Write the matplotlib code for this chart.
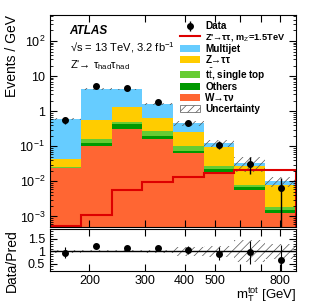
import numpy as np
import matplotlib
matplotlib.use("Agg")
import matplotlib.pyplot as plt
from matplotlib.patches import Patch
from matplotlib.lines import Line2D
from matplotlib.ticker import FixedLocator, FixedFormatter, NullFormatter, LogLocator, MultipleLocator

plt.rcParams["font.family"] = ["Liberation Sans", "DejaVu Sans"]
plt.rcParams["mathtext.fontset"] = "custom"
plt.rcParams["mathtext.rm"] = "Liberation Sans"
plt.rcParams["mathtext.it"] = "Liberation Sans:italic"
plt.rcParams["mathtext.bf"] = "Liberation Sans:bold"
plt.rcParams["hatch.linewidth"] = 0.5

# ---- data ----
bin_edges = [150, 187.6, 234.8, 293.7, 367.4, 459.6, 575.0, 719.3, 900]
w_taunu = [0.024, 0.105, 0.32, 0.16, 0.063, 0.0185, 0.0055, 0.00125]
others = [0.0008, 0.02, 0.10, 0.03, 0.01, 0.0045, 0.0014, 0.00025]
ttbar = [0.0008, 0.04, 0.07, 0.08, 0.027, 0.005, 0.0008, 0.0003]
z_tautau = [0.018, 0.38, 0.8, 0.37, 0.16, 0.068, 0.02, 0.006]
multijet = [0.56, 3.7, 2.9, 1.0, 0.19, 0.028, 0.006, 0.0023]
signal = [5.3e-4, 0.00107, 0.0055, 0.0095, 0.013, 0.017, 0.021, 0.021]
data = [0.57, 5.2, 4.7, 1.85, 0.47, 0.112, 0.032, 0.0064]
data_err = [0.125, 0.33, 0.29, 0.15, 0.07, 0.031, 0.016, 0.0064]
rel_unc = [0.07, 0.05, 0.05, 0.06, 0.18, 0.22, 0.45, 0.3]

x_ticks = [200, 300, 400, 500, 600, 700, 800]
x_ticklabels = ["200", "300", "400", "500", "", "", "800"]
y_ticks = [1e-3, 1e-2, 1e-1, 1, 10, 100]
y_ticklabels = [r"$10^{-3}$", r"$10^{-2}$", r"$10^{-1}$", "1", "10", r"$10^{2}$"]
r_ticks = [0.5, 1, 1.5]
r_ticklabels = ["0.5", "1", "1.5"]

colors = {
    "W": "#ff6633",
    "Others": "#009900",
    "tt": "#66cc33",
    "Z": "#ffcc00",
    "MJ": "#66ccff",
}
hatch_col = "#555555"

edges = np.array(bin_edges)
centers = np.sqrt(edges[:-1] * edges[1:])

fig = plt.figure(figsize=(3.12, 3.06), dpi=100)
ax = fig.add_axes([50/312, 1-227/306, 246/312, 212/306])
rax = fig.add_axes([50/312, 1-271/306, 246/312, 42/306])

stack = [
    (w_taunu, colors["W"]),
    (others, colors["Others"]),
    (ttbar, colors["tt"]),
    (z_tautau, colors["Z"]),
    (multijet, colors["MJ"]),
]
base = np.full(len(centers), 1e-6)
for vals, c in stack:
    top = base + np.array(vals)
    ax.stairs(top, edges, baseline=base, fill=True, color=c, lw=0)
    base = top
total = base

unc = total * np.array(rel_unc)
ax.stairs(total + unc, edges, baseline=total - unc, fill=True, facecolor="none",
          edgecolor=hatch_col, hatch="////", lw=0)

ax.stairs(signal, edges, color="#dd0000", lw=1.5)
h_data = ax.errorbar(centers, data, yerr=data_err, fmt="o", color="black", ms=4, lw=1, capsize=0)

ax.set_xscale("log")
ax.set_yscale("log")
ax.set_xlim(150, 900)
ax.set_ylim(5e-4, 550)
for a in (ax, rax):
    a.xaxis.set_major_locator(FixedLocator(x_ticks))
    a.xaxis.set_minor_locator(FixedLocator([]))
    a.tick_params(which="both", direction="in", top=True, right=True, labelsize=9)
    a.tick_params(which="major", length=5, width=0.8)
    a.tick_params(which="minor", length=2.5, width=0.6)
ax.xaxis.set_major_formatter(NullFormatter())
ax.yaxis.set_major_locator(FixedLocator(y_ticks))
ax.yaxis.set_major_formatter(FixedFormatter(y_ticklabels))
ax.yaxis.set_minor_locator(LogLocator(base=10, subs=np.arange(2, 10)))
ax.yaxis.set_minor_formatter(NullFormatter())
ax.set_ylabel("Events / GeV", fontsize=10, loc="top")

ratio = np.array(data) / total
ratio_err = np.array(data_err) / total
rax.stairs(1 + np.array(rel_unc), edges, baseline=1 - np.array(rel_unc), fill=True,
           facecolor="none", edgecolor=hatch_col, hatch="////", lw=0)
rax.axhline(1, color="black", lw=1)
rax.errorbar(centers, ratio, yerr=ratio_err, fmt="o", color="black", ms=4, lw=0.8, capsize=0)
rax.set_xscale("log")
rax.set_xlim(150, 900)
rax.set_ylim(0.2, 1.9)
rax.xaxis.set_major_locator(FixedLocator(x_ticks))
rax.xaxis.set_minor_locator(FixedLocator([]))
rax.xaxis.set_major_formatter(FixedFormatter(x_ticklabels))
rax.yaxis.set_major_locator(FixedLocator(r_ticks))
rax.yaxis.set_major_formatter(FixedFormatter(r_ticklabels))
rax.yaxis.set_minor_locator(MultipleLocator(0.1))
rax.tick_params(axis="x", pad=3)
rax.set_ylabel("Data/Pred", fontsize=10, loc="top")
rax.set_xlabel(r"m$_{\rm T}^{\rm tot}$ [GeV]", fontsize=9.5, loc="right", labelpad=-1)
ax.yaxis.set_label_coords(-0.125, 1.0)
rax.yaxis.set_label_coords(-0.125, 1.0)

ax.text(0.08, 0.925, "ATLAS", transform=ax.transAxes, fontsize=8.5, fontweight="bold",
        style="italic", va="center")
ax.text(0.08, 0.845, "\u221As = 13 TeV, 3.2 fb$^{-1}$", transform=ax.transAxes,
        fontsize=8, va="center")
ax.text(0.08, 0.765, "Z'\u2192 \u03c4$_{\\rm had}$\u03c4$_{\\rm had}$", transform=ax.transAxes,
        fontsize=8, va="center")

handles = [
    h_data,
    Line2D([0], [0], color="#dd0000", lw=1.5),
    Patch(facecolor=colors["MJ"]),
    Patch(facecolor=colors["Z"]),
    Patch(facecolor=colors["tt"]),
    Patch(facecolor=colors["Others"]),
    Patch(facecolor=colors["W"]),
    Patch(facecolor="white", edgecolor=hatch_col, hatch="////", lw=0.5),
]
labels = ["Data", "Z'\u2192\u03c4\u03c4, m$_{\\rm Z'}$=1.5TeV", "Multijet",
          "Z\u2192\u03c4\u03c4", "t$\\bar{\\rm t}$, single top", "Others",
          "W\u2192\u03c4\u03bd", "Uncertainty"]
leg = ax.legend(handles, labels, loc="upper left", bbox_to_anchor=(0.53, 0.97),
                frameon=False, handlelength=2.0, handletextpad=0.5,
                labelspacing=0.08, borderpad=0, borderaxespad=0,
                prop={"weight": "bold", "size": 7.2})
leg.get_texts()[1].set_fontsize(6.6)

fig.savefig("out.png", dpi=100)
